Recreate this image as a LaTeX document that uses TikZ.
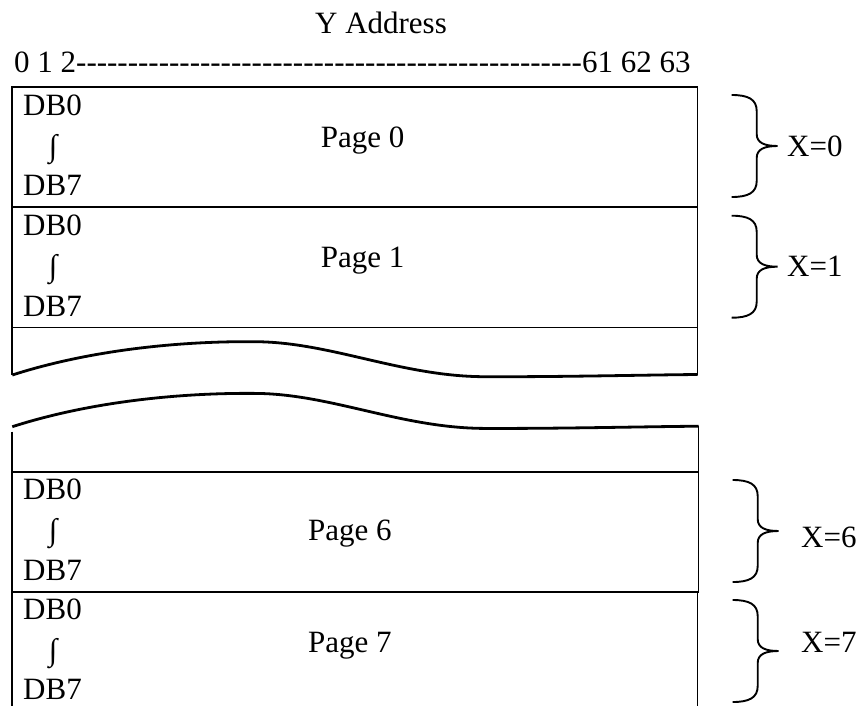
\documentclass[tikz,border=0pt]{standalone}
\usepackage{fontspec}
\setmainfont{Liberation Serif}[Ligatures=TeXOff]
\begin{document}
\begin{tikzpicture}[x=1pt,y=-1pt,
  box/.style={line width=1.9pt},
  wave/.style={line width=2.8pt},
  brace/.style={line width=1.9pt},
  txt/.style={inner sep=0pt, anchor=base west, font=\fontsize{31}{37}\selectfont},
  ctxt/.style={inner sep=0pt, anchor=base, font=\fontsize{31}{37}\selectfont},
  itxt/.style={inner sep=0pt, anchor=center, font=\fontsize{31}{37}\selectfont},
  xbr/.pic={\draw[brace] (0,-51) .. controls (16,-51) and (25,-47) .. (25,-35) -- (25,-12) .. controls (25,-3) and (33,0) .. (46,0) .. controls (33,0) and (25,3) .. (25,12) -- (25,35) .. controls (25,47) and (16,51) .. (0,51);}
]
\useasboundingbox (0,0) rectangle (861,706);
% title and address row
\node[ctxt] (title) at (381,33.3) {Y Address};
\node[txt] (addr) at (14,72.7) {0 1 2-------------------------------------------------61 62 63};
% upper block (pages 0 and 1)
\draw[box] (12.3,375) -- (12.3,87.3) -- (697.5,87.3) -- (697.5,374.5);
\draw[box] (12.3,207) -- (697.5,207);
\draw[box] (12.3,327.5) -- (697.5,327.5);
% break waves
\draw[wave] (12.3,375) .. controls (90,350) and (180,341) .. (255,341.7) .. controls (330,342) and (400,376) .. (483,376.7) .. controls (560,377) and (640,375) .. (697.5,374.5);
\draw[wave] (12.3,426.7) .. controls (90,401.7) and (180,392.7) .. (255,393.4) .. controls (330,393.7) and (400,427.7) .. (483,428.4) .. controls (560,428.7) and (640,426.7) .. (698.5,426.2);
% lower block (pages 6 and 7)
\draw[box] (12.3,431.7) -- (12.3,706);
\draw[box] (698.5,426.2) -- (698.5,591.7);
\draw[box] (697.5,591.7) -- (697.5,706);
\draw[box] (12.3,471.7) -- (698.5,471.7);
\draw[box] (12.3,591.7) -- (698.5,591.7);
% page 0
\node[txt] (p0a) at (23,115) {DB0};
\node[itxt] (p0i) at (53,150) {∫};
\node[txt] (p0b) at (23,195) {DB7};
\node[txt] (p0) at (320.7,147.3) {Page 0};
% page 1
\node[txt] (p1a) at (23,235) {DB0};
\node[itxt] (p1i) at (53,270) {∫};
\node[txt] (p1b) at (23,316) {DB7};
\node[txt] (p1) at (320.7,267.3) {Page 1};
% page 6
\node[txt] (p6a) at (23,499.4) {DB0};
\node[itxt] (p6i) at (53,534) {∫};
\node[txt] (p6b) at (23,580) {DB7};
\node[txt] (p6) at (308,540) {Page 6};
% page 7
\node[txt] (p7a) at (23,619.4) {DB0};
\node[itxt] (p7i) at (53,654) {∫};
\node[txt] (p7b) at (23,699) {DB7};
\node[txt] (p7) at (308,652) {Page 7};
% braces and labels
\pic at (731.7,146) {xbr};
\node[txt] (x0) at (787,156) {X=0};
\pic at (731.7,266.7) {xbr};
\node[txt] (x1) at (787,276) {X=1};
\pic at (732.7,531) {xbr};
\node[txt] (x6) at (801,547) {X=6};
\pic at (732.7,651) {xbr};
\node[txt] (x7) at (801,652) {X=7};
\end{tikzpicture}
\end{document}
